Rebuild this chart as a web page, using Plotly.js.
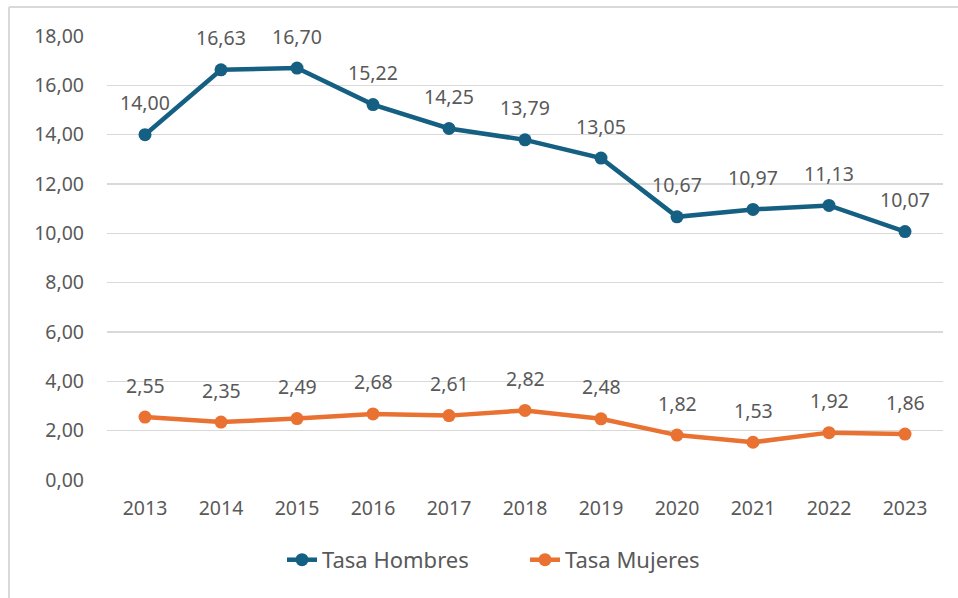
<!DOCTYPE html>
<html>
<head>
<meta charset="utf-8">
<script src="https://cdn.plot.ly/plotly-3.0.1.min.js"></script>
<style>html,body{margin:0;padding:0;background:#fff;}#chart{width:958px;height:598px;}</style>
</head>
<body>
<div id="chart"></div>
<script>
var years = ["2013","2014","2015","2016","2017","2018","2019","2020","2021","2022","2023"];
var tasaHombres = [14.00,16.63,16.70,15.22,14.25,13.79,13.05,10.67,10.97,11.13,10.07];
var tasaMujeres = [2.55,2.35,2.49,2.68,2.61,2.82,2.48,1.82,1.53,1.92,1.86];
var yTicks = [0,2,4,6,8,10,12,14,16,18];

var BLUE = "#156082", ORANGE = "#E97132", TXT = "#595959";
var FONT = "Noto Sans, sans-serif";
function fmt(v){ return v.toFixed(2).replace(".", ","); }

var traces = [
  {x: years, y: tasaHombres, name: "Tasa Hombres", type: "scatter", mode: "lines+markers",
   line: {color: BLUE, width: 4.5}, marker: {color: BLUE, size: 13}},
  {x: years, y: tasaMujeres, name: "Tasa Mujeres", type: "scatter", mode: "lines+markers",
   line: {color: ORANGE, width: 4.5}, marker: {color: ORANGE, size: 13}}
];

var annotations = [];
[tasaHombres, tasaMujeres].forEach(function(s){
  s.forEach(function(v, i){
    annotations.push({x: i, y: v, xref: "x", yref: "y", text: fmt(v), showarrow: false,
      yshift: 32, font: {family: FONT, size: 19.5, color: TXT}});
  });
});

var layout = {
  width: 958, height: 598,
  margin: {l: 107, r: 15, t: 36, b: 118},
  paper_bgcolor: "#fff", plot_bgcolor: "#fff",
  font: {family: FONT, size: 19.5, color: TXT},
  showlegend: true,
  legend: {orientation: "h", x: 0.5, xanchor: "center", y: -0.18, yanchor: "middle",
    entrywidth: 198, font: {family: FONT, size: 22, color: TXT}},
  xaxis: {type: "category", range: [-0.5, years.length - 0.5], autorange: false,
    showgrid: false, zeroline: false, showline: false, ticklabelstandoff: 14,
    ticks: "", tickfont: {family: FONT, size: 19.5, color: TXT}, fixedrange: true},
  yaxis: {range: [0, 18], autorange: false, tickvals: yTicks, ticktext: yTicks.map(fmt), showgrid: true,
    gridcolor: "#d9d9d9", gridwidth: 1.3, zeroline: false, showline: false, ticks: "",
    tickfont: {family: FONT, size: 19.5, color: TXT}, ticklabelstandoff: 22, fixedrange: true},
  annotations: annotations,
  shapes: [
    {type: "line", xref: "paper", yref: "paper", x0: -0.1172, x1: 1.02, y0: 1.0653, y1: 1.0653,
     line: {color: "#d9d9d9", width: 2}},
    {type: "line", xref: "paper", yref: "paper", x0: -0.1172, x1: -0.1172, y0: 1.0653, y1: -0.27,
     line: {color: "#d9d9d9", width: 2}}
  ]
};

Plotly.newPlot("chart", traces, layout, {displayModeBar: false, staticPlot: true});
</script>
</body>
</html>
